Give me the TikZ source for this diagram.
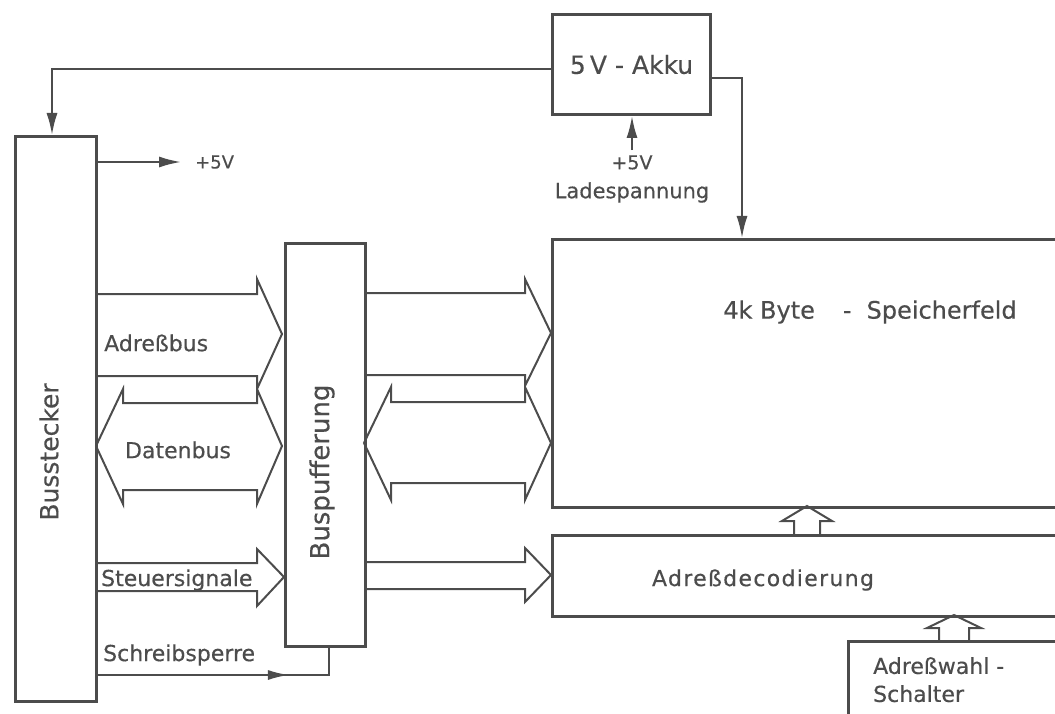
\documentclass[tikz,border=0pt]{standalone}
\usepackage{fontspec}
\setmainfont{DejaVu Sans}[FakeBold=0.4]
\newfontfamily\widefont{DejaVu Sans}[LetterSpace=6,FakeBold=0.4]
\usetikzlibrary{arrows.meta,decorations.markings}
\definecolor{ink}{gray}{0.3}
\tikzset{
  box/.style={draw=ink, line width=3pt, rectangle, inner sep=0pt, anchor=north west},
  lbl/.style={text=ink, inner sep=0pt, font=\fontsize{22}{26}\selectfont},
  small/.style={text=ink, inner sep=0pt, font=\fontsize{18}{22}\selectfont},
  vlbl/.style={text=ink, inner sep=0pt, rotate=90},
  conn/.style={draw=ink, line width=2pt},
  arr/.style={conn, -{Latex[length=22pt,width=11pt]}},
  bus/.style={draw=ink, line width=2pt, line join=miter},
}
\begin{document}
\begin{tikzpicture}[x=1pt,y=-1pt]
\useasboundingbox (0,0) rectangle (1055,714);
% boxes
\node[box, minimum width=81pt, minimum height=565pt] (bs) at (14,135) {};
\node[vlbl, font=\fontsize{25}{28}\selectfont] (bst) at (49,452) {Busstecker};
\node[box, minimum width=80pt, minimum height=403pt] (bp) at (284,242) {};
\node[vlbl, font=\fontsize{26}{28}\selectfont] (bpt) at (322,472) {Buspufferung};
\node[box, minimum width=158pt, minimum height=100pt] (ak) at (551,13) {};
\node[text=ink, inner sep=0pt, font=\fontsize{25}{28}\selectfont] (akt) at (ak.center) {5\,V - Akku};
\node[box, minimum width=530pt, minimum height=268pt] (sf) at (551,238) {};
\node[lbl, font=\fontsize{24}{28}\selectfont] (sft) at (870,312) {4k Byte\hspace{28pt}-\hspace{15pt}Speicherfeld};
\node[box, minimum width=530pt, minimum height=81pt] (ad) at (551,534) {};
\node[lbl, font=\widefont\fontsize{22}{26}\selectfont] (adt) at (763,580) {Adreßdecodierung};
\node[box, minimum width=250pt, minimum height=120pt] (aw) at (847,640) {};
\node[lbl, anchor=north west, align=left, font=\fontsize{22}{28}\selectfont] (awt) at (873,657) {Adreßwahl -\\Schalter};

% supply connectors
\node[small, align=center, font=\fontsize{21}{29}\selectfont] (lade) at (632,179) {{\fontsize{19}{29}\selectfont +5V}\\Ladespannung};
\draw[arr] ([yshift=-5pt]ak.west) -| ([xshift=38pt]bs.north west);
\draw[arr] ([yshift=-14pt]ak.east) -| ([xshift=191pt]sf.north west);
\draw[arr] ([yshift=5pt]lade.north) -- (lade.north |- ak.south);
\node[small, anchor=west, inner xsep=0pt] (p5) at (195,162) {+5V};
\draw[arr] ([yshift=-27pt]bs.north east) -- ([xshift=-14pt]p5.west);

% Adressbus left
\draw[bus] (95,294) -- (257,294) -- (257,279) -- (282,334) -- (257,389) -- (257,376) -- (95,376);
\node[lbl, anchor=west] (abl) at (104,343) {Adreßbus};
% Datenbus left
\draw[bus] (282,446) -- (257,389) -- (257,403) -- (123,403) -- (123,389) -- (96,446) -- (123,504) -- (123,490) -- (257,490) -- (257,504) -- cycle;
\node[lbl] (dbl) at (178,450) {Datenbus};
% Adressbus right
\draw[bus] (364,293) -- (525,293) -- (525,279) -- (551,333) -- (525,386) -- (525,375) -- (364,375);
% Datenbus right
\draw[bus] (551,443) -- (525,387) -- (525,402) -- (391,402) -- (391,387) -- (364,443) -- (391,500) -- (391,483) -- (525,483) -- (525,500) -- cycle;
% Steuersignale
\draw[bus] (95,563) -- (257,563) -- (257,549) -- (284,577) -- (257,606) -- (257,591) -- (95,591);
\node[lbl, anchor=west] (stl) at (101,580) {Steuersignale};
\draw[bus] (364,562) -- (525,562) -- (525,548) -- (551,575) -- (525,602) -- (525,589) -- (364,589);
% up arrows
\draw[bus] (794,534) -- (794,521) -- (782,521) -- (807,506) -- (832,521) -- (820,521) -- (820,534);
\draw[bus] (939,640) -- (939,628) -- (927,628) -- (954,615) -- (981,628) -- (969,628) -- (969,640);

% Schreibsperre
\draw[conn, postaction={decorate}, decoration={markings, mark=at position 0.74 with {\arrow{Latex[length=21pt,width=10pt]}}}]
  ([yshift=28pt]bs.south east) -| ([xshift=-38pt]bp.south east);
\node[lbl, anchor=west] (swl) at (103,655) {Schreibsperre};
\end{tikzpicture}
\end{document}
